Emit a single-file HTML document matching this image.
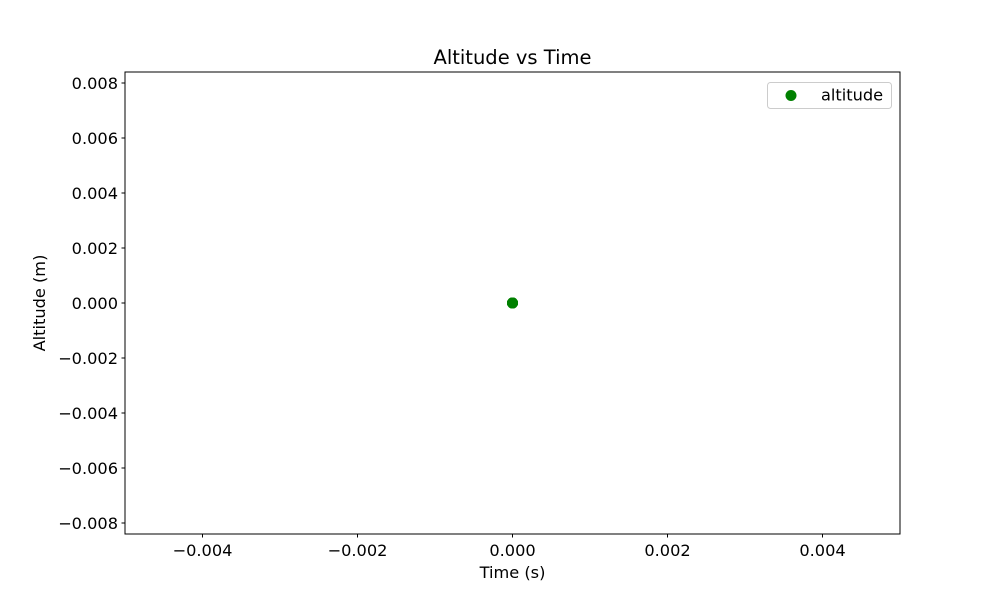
<!DOCTYPE html>
<html><head><meta charset="utf-8"><style>
body{margin:0;background:#fff;}
svg{display:block;font-family:"DejaVu Sans","Liberation Sans",sans-serif;}
</style></head><body>
<svg id="chart" width="1000" height="600" viewBox="0 0 1000 600">
<rect x="0" y="0" width="1000" height="600" fill="#fff"/>
<text x="512.5" y="64" text-anchor="middle" font-size="19.5">Altitude vs Time</text>
<g id="xticks"></g>
<g id="yticks"></g>
<g id="points"></g>
<rect x="125" y="72" width="775" height="462" fill="none" stroke="#000" stroke-width="1"/>
<text x="512.5" y="578" text-anchor="middle" font-size="16.2">Time (s)</text>
<text transform="translate(45,303) rotate(-90)" text-anchor="middle" font-size="16.2">Altitude (m)</text>
<g>
<rect x="767.5" y="82.5" width="124" height="26" rx="3" fill="#fff" stroke="#ccc"/>
<circle cx="791" cy="95.5" r="5.5" fill="green"/>
<text x="821" y="100.5" font-size="16.2">altitude</text>
</g>
</svg>
<script>
const xTicks=[-0.004,-0.002,0,0.002,0.004];
const yTicks=[-0.008,-0.006,-0.004,-0.002,0,0.002,0.004,0.006,0.008];
const times=[0,0,0,0,0];
const altitudes=[0,0,0,0,0];
const X0=125,X1=900,Y0=534,Y1=72,xmin=-0.005,xmax=0.005,ymin=-0.0084,ymax=0.0084;
const sx=v=>X0+(v-xmin)/(xmax-xmin)*(X1-X0);
const sy=v=>Y0-(v-ymin)/(ymax-ymin)*(Y0-Y1);
const NS='http://www.w3.org/2000/svg';
const fmt=v=>(v<0?'\u2212':'')+Math.abs(v).toFixed(3);
const xg=document.getElementById('xticks');
xTicks.forEach(v=>{
 const l=document.createElementNS(NS,'line');
 l.setAttribute('x1',sx(v));l.setAttribute('x2',sx(v));l.setAttribute('y1',534);l.setAttribute('y2',537.5);l.setAttribute('stroke','#000');
 
 
 xg.appendChild(l);
 const t=document.createElementNS(NS,'text');
 t.setAttribute('x',sx(v));t.setAttribute('y',556);t.setAttribute('text-anchor','middle');t.setAttribute('font-size','16.2');
 t.textContent=fmt(v);
 
 
 xg.appendChild(t);
});
const yg=document.getElementById('yticks');
yTicks.forEach(v=>{
 const l=document.createElementNS(NS,'line');
 l.setAttribute('x1',121.5);l.setAttribute('x2',125);l.setAttribute('y1',sy(v));l.setAttribute('y2',sy(v));l.setAttribute('stroke','#000');
 
 
 yg.appendChild(l);
 const t=document.createElementNS(NS,'text');
 t.setAttribute('x',118);t.setAttribute('y',sy(v)+6);t.setAttribute('text-anchor','end');t.setAttribute('font-size','16.2');
 t.textContent=fmt(v);
 
 
 yg.appendChild(t);
});
const pg=document.getElementById('points');
times.forEach((tv,i)=>{
 const c=document.createElementNS(NS,'circle');
 c.setAttribute('cx',sx(tv));c.setAttribute('cy',sy(altitudes[i]));c.setAttribute('r',5.5);c.setAttribute('fill','green');
 
 
 pg.appendChild(c);
});
</script>
</body></html>
